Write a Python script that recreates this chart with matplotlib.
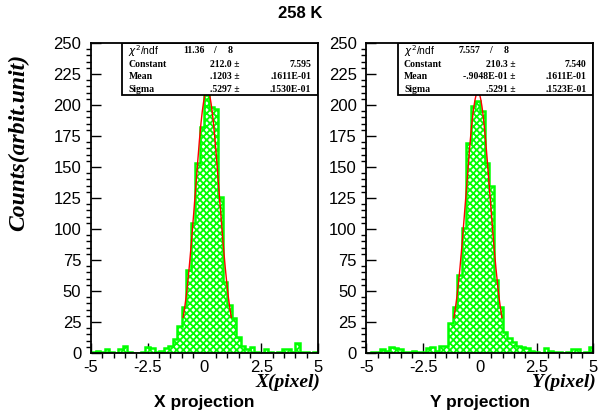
import numpy as np
import matplotlib.pyplot as plt
from matplotlib.patches import Rectangle
from matplotlib.ticker import MultipleLocator

plt.rcParams['font.family'] = ['Liberation Sans', 'DejaVu Sans']
plt.rcParams['hatch.linewidth'] = 1.3

edges = np.linspace(-5, 5, 51)

x_counts = [1, 2, 1, 3, 1, 0, 3, 6, 1, 0, 0, 1, 5, 4, 1, 2, 4, 6, 11, 22,
            37, 67, 105, 153, 182, 208, 198, 197, 126, 57, 39, 28, 13, 6, 3, 5, 1, 0, 3, 1,
            0, 1, 3, 3, 1, 8, 1, 1, 0, 1]
y_counts = [0, 1, 1, 3, 2, 5, 4, 3, 1, 1, 2, 1, 1, 4, 5, 2, 6, 6, 24, 37,
            63, 101, 169, 199, 203, 195, 153, 135, 59, 37, 17, 12, 9, 6, 5, 4, 2, 1, 0, 4,
            2, 1, 1, 0, 1, 3, 3, 0, 1, 5]

# gaussian fit results (constant, mean, sigma)
x_fit = (212.0, 0.1203, 0.5297)
y_fit = (210.3, -0.09048, 0.5291)

x_stats = ['11.36', '8', '212.0', '7.595', '.1203', '.1611E-01', '.5297', '.1530E-01']
y_stats = ['7.557', '8', '210.3', '7.540', '-.9048E-01', '.1611E-01', '.5291', '.1523E-01']

fig = plt.figure(figsize=(6.01, 4.18), dpi=100)
ax1 = fig.add_axes([0.1514, 0.1555, 0.3777, 0.7416])
ax2 = fig.add_axes([0.6098, 0.1555, 0.3777, 0.7416])


def draw_panel(ax, counts, fit, stats, xtitle, title):
    ax.stairs(counts, edges, fill=True, hatch='xxxxx', facecolor='white',
              edgecolor='#00ff00', linewidth=0, zorder=2)
    ax.stairs(counts, edges, color='#00ff00', linewidth=1.8, zorder=3)
    c, m, s = fit
    xx = np.linspace(m - 2 * s, m + 2 * s, 200)
    ax.plot(xx, c * np.exp(-0.5 * ((xx - m) / s) ** 2), color='red', lw=1.0, zorder=4)

    ax.set_xlim(-5, 5)
    ax.set_ylim(0, 250)
    ax.xaxis.set_minor_locator(MultipleLocator(0.5))
    ax.yaxis.set_minor_locator(MultipleLocator(5))
    ax.set_xticks([-5, -2.5, 0, 2.5, 5])
    ax.set_xticklabels(['-5', '-2.5', '0', '2.5', '5'])
    ax.set_yticks(range(0, 251, 25))
    ax.tick_params(direction='in', labelsize=12, width=1.0)
    ax.tick_params(which='major', length=7)
    ax.tick_params(which='minor', length=3.5, width=1.0)
    ax.tick_params(axis='x', pad=5)
    ax.tick_params(axis='y', pad=7)
    for sp in ax.spines.values():
        sp.set_linewidth(1.3)
        sp.set_zorder(6)

    # stats box
    ax.add_patch(Rectangle((0.137, 0.832), 0.863, 0.168, transform=ax.transAxes,
                           facecolor='white', edgecolor='black', lw=1.3, zorder=5))
    rows = [0.975, 0.932, 0.892, 0.851]
    kw = dict(transform=ax.transAxes, fontsize=7, family='Liberation Serif',
              fontweight='bold', va='center', zorder=7)
    ax.text(0.165, rows[0], r'$\chi^2$/ndf', transform=ax.transAxes, fontsize=7.5,
            va='center', zorder=7)
    ax.text(0.50, rows[0], stats[0], ha='right', **kw)
    ax.text(0.545, rows[0], '/', ha='center', **kw)
    ax.text(0.615, rows[0], stats[1], ha='center', **kw)
    names = ['Constant', 'Mean', 'Sigma']
    for k in range(3):
        ax.text(0.165, rows[k + 1], names[k], ha='left', **kw)
        ax.text(0.655, rows[k + 1], stats[2 + 2 * k] + ' \u00b1', ha='right', **kw)
        ax.text(0.97, rows[k + 1], stats[3 + 2 * k], ha='right', **kw)

    ax.text(1.01, -0.095, xtitle, transform=ax.transAxes, ha='right', va='center',
            fontsize=14, family='Liberation Serif', fontweight='bold', style='italic')
    ax.text(0.5, -0.16, title, transform=ax.transAxes, ha='center', va='center',
            fontsize=12.5, fontweight='bold')


draw_panel(ax1, x_counts, x_fit, x_stats, 'X(pixel)', 'X projection')
draw_panel(ax2, y_counts, y_fit, y_stats, 'Y(pixel)', 'Y projection')

fig.text(0.031, 0.66, 'Counts(arbit.unit)', rotation=90, ha='center', va='center',
         fontsize=17, family='Liberation Serif', fontweight='bold', style='italic')
fig.text(0.5, 0.967, '258 K', ha='center', va='center', fontsize=12, fontweight='bold')

fig.savefig('out.png', dpi=100)
